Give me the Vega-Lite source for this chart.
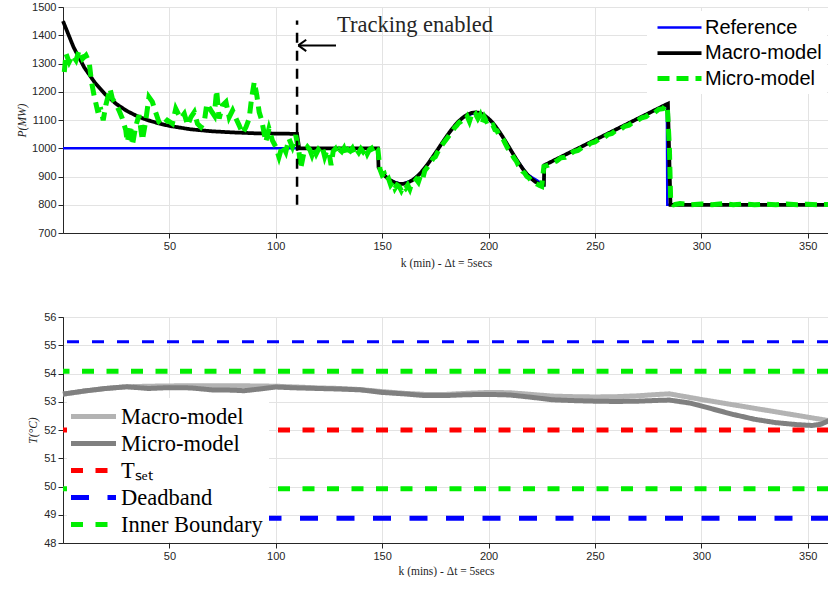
{
  "$schema": "https://vega.github.io/schema/vega-lite/v6.json",
  "padding": {"left": 15, "top": 0, "right": 0, "bottom": 0},
  "background": "white",
  "spacing": 84,
  "bounds": "flush",
  "resolve": {
    "scale": {"color": "independent", "strokeWidth": "independent", "strokeDash": "independent"},
    "legend": {"color": "independent", "strokeWidth": "independent", "strokeDash": "independent"}
  },
  "config": {
    "view": {"stroke": "#262626", "strokeWidth": 1},
    "axis": {
      "grid": true, "gridColor": "#e3e3e3", "gridWidth": 1,
      "domainColor": "#262626", "tickColor": "#262626", "tickSize": 5, "labelOverlap": false,
      "labelFont": "Liberation Sans", "labelFontSize": 11, "labelColor": "#262626",
      "titleFont": "Liberation Serif", "titleFontWeight": "normal", "titleFontSize": 11.5, "titleColor": "#262626"
    }
  },
  "datasets": {
    "top": [
      {"k": 0, "P": 1000, "s": "Reference"}, {"k": 148, "P": 1000, "s": "Reference"},
      {"k": 148.3, "P": 932, "s": "Reference"}, {"k": 150, "P": 912, "s": "Reference"}, {"k": 154, "P": 886, "s": "Reference"}, {"k": 159, "P": 873, "s": "Reference"}, {"k": 164, "P": 886, "s": "Reference"}, {"k": 168, "P": 912, "s": "Reference"}, {"k": 172, "P": 950, "s": "Reference"}, {"k": 176, "P": 994, "s": "Reference"}, {"k": 180, "P": 1039, "s": "Reference"}, {"k": 184, "P": 1079, "s": "Reference"}, {"k": 188, "P": 1109, "s": "Reference"}, {"k": 194, "P": 1127, "s": "Reference"}, {"k": 200, "P": 1105, "s": "Reference"}, {"k": 206, "P": 1048, "s": "Reference"}, {"k": 212, "P": 974, "s": "Reference"}, {"k": 218, "P": 909, "s": "Reference"}, {"k": 226, "P": 871, "s": "Reference"}, {"k": 226.2, "P": 940, "s": "Reference"}, {"k": 283.8, "P": 1157, "s": "Reference"}, {"k": 284, "P": 800, "s": "Reference"}, {"k": 360, "P": 800, "s": "Reference"},

      {"k": 0, "P": 1450, "s": "Macro-model"}, {"k": 5, "P": 1357, "s": "Macro-model"}, {"k": 10, "P": 1286, "s": "Macro-model"}, {"k": 15, "P": 1232, "s": "Macro-model"}, {"k": 20, "P": 1190, "s": "Macro-model"}, {"k": 25, "P": 1157, "s": "Macro-model"}, {"k": 30, "P": 1132, "s": "Macro-model"}, {"k": 35, "P": 1113, "s": "Macro-model"}, {"k": 40, "P": 1099, "s": "Macro-model"}, {"k": 45, "P": 1088, "s": "Macro-model"}, {"k": 50, "P": 1079, "s": "Macro-model"}, {"k": 60, "P": 1067, "s": "Macro-model"}, {"k": 70, "P": 1060, "s": "Macro-model"}, {"k": 80, "P": 1056, "s": "Macro-model"}, {"k": 90, "P": 1053, "s": "Macro-model"}, {"k": 100, "P": 1052, "s": "Macro-model"}, {"k": 110, "P": 1051, "s": "Macro-model"}, {"k": 111, "P": 1000, "s": "Macro-model"}, {"k": 148, "P": 1000, "s": "Macro-model"},
      {"k": 148.3, "P": 932, "s": "Macro-model"}, {"k": 150, "P": 912, "s": "Macro-model"}, {"k": 152, "P": 897, "s": "Macro-model"}, {"k": 154, "P": 886, "s": "Macro-model"}, {"k": 156, "P": 878, "s": "Macro-model"}, {"k": 158, "P": 874, "s": "Macro-model"}, {"k": 160, "P": 874, "s": "Macro-model"}, {"k": 162, "P": 878, "s": "Macro-model"}, {"k": 164, "P": 886, "s": "Macro-model"}, {"k": 166, "P": 897, "s": "Macro-model"}, {"k": 168, "P": 912, "s": "Macro-model"}, {"k": 170, "P": 930, "s": "Macro-model"}, {"k": 172, "P": 950, "s": "Macro-model"}, {"k": 174, "P": 972, "s": "Macro-model"}, {"k": 176, "P": 994, "s": "Macro-model"}, {"k": 178, "P": 1017, "s": "Macro-model"}, {"k": 180, "P": 1039, "s": "Macro-model"}, {"k": 182, "P": 1060, "s": "Macro-model"}, {"k": 184, "P": 1079, "s": "Macro-model"}, {"k": 186, "P": 1096, "s": "Macro-model"}, {"k": 188, "P": 1109, "s": "Macro-model"}, {"k": 190, "P": 1119, "s": "Macro-model"}, {"k": 192, "P": 1125, "s": "Macro-model"}, {"k": 194, "P": 1127, "s": "Macro-model"}, {"k": 196, "P": 1125, "s": "Macro-model"}, {"k": 198, "P": 1117, "s": "Macro-model"}, {"k": 200, "P": 1105, "s": "Macro-model"}, {"k": 202, "P": 1090, "s": "Macro-model"}, {"k": 204, "P": 1070, "s": "Macro-model"}, {"k": 206, "P": 1048, "s": "Macro-model"}, {"k": 208, "P": 1024, "s": "Macro-model"}, {"k": 210, "P": 999, "s": "Macro-model"}, {"k": 212, "P": 974, "s": "Macro-model"}, {"k": 214, "P": 950, "s": "Macro-model"}, {"k": 216, "P": 928, "s": "Macro-model"}, {"k": 218, "P": 909, "s": "Macro-model"}, {"k": 220, "P": 893, "s": "Macro-model"}, {"k": 222, "P": 881, "s": "Macro-model"}, {"k": 224, "P": 873, "s": "Macro-model"}, {"k": 226, "P": 871, "s": "Macro-model"}, {"k": 226.2, "P": 940, "s": "Macro-model"}, {"k": 284.3, "P": 1158, "s": "Macro-model"}, {"k": 285.5, "P": 800, "s": "Macro-model"}, {"k": 360, "P": 800, "s": "Macro-model"},

      {"k": 0.6, "P": 1270, "s": "Micro-model"}, {"k": 1.4, "P": 1335, "s": "Micro-model"}, {"k": 2.9, "P": 1305, "s": "Micro-model"}, {"k": 4.5, "P": 1329, "s": "Micro-model"}, {"k": 6.1, "P": 1311, "s": "Micro-model"}, {"k": 7.6, "P": 1347, "s": "Micro-model"}, {"k": 9.2, "P": 1317, "s": "Micro-model"}, {"k": 10.8, "P": 1329, "s": "Micro-model"}, {"k": 12.3, "P": 1305, "s": "Micro-model"}, {"k": 13.4, "P": 1235, "s": "Micro-model"}, {"k": 14.6, "P": 1187, "s": "Micro-model"}, {"k": 16.2, "P": 1134, "s": "Micro-model"}, {"k": 17.8, "P": 1137, "s": "Micro-model"}, {"k": 18.9, "P": 1099, "s": "Micro-model"}, {"k": 20.1, "P": 1152, "s": "Micro-model"}, {"k": 22.1, "P": 1211, "s": "Micro-model"}, {"k": 23.2, "P": 1176, "s": "Micro-model"}, {"k": 24.7, "P": 1158, "s": "Micro-model"}, {"k": 26.3, "P": 1134, "s": "Micro-model"}, {"k": 27.9, "P": 1105, "s": "Micro-model"}, {"k": 29.5, "P": 1064, "s": "Micro-model"}, {"k": 30.2, "P": 1022, "s": "Micro-model"}, {"k": 31.8, "P": 1081, "s": "Micro-model"}, {"k": 32.6, "P": 1010, "s": "Micro-model"}, {"k": 34.1, "P": 1075, "s": "Micro-model"}, {"k": 35.7, "P": 1117, "s": "Micro-model"}, {"k": 37.3, "P": 1028, "s": "Micro-model"}, {"k": 38.8, "P": 1093, "s": "Micro-model"}, {"k": 40.4, "P": 1181, "s": "Micro-model"}, {"k": 42, "P": 1164, "s": "Micro-model"}, {"k": 43.5, "P": 1128, "s": "Micro-model"}, {"k": 45.1, "P": 1093, "s": "Micro-model"}, {"k": 46.7, "P": 1081, "s": "Micro-model"}, {"k": 49, "P": 1099, "s": "Micro-model"}, {"k": 51.4, "P": 1087, "s": "Micro-model"}, {"k": 53, "P": 1140, "s": "Micro-model"}, {"k": 55.3, "P": 1105, "s": "Micro-model"}, {"k": 57, "P": 1122, "s": "Micro-model"}, {"k": 58.6, "P": 1081, "s": "Micro-model"}, {"k": 60.1, "P": 1110, "s": "Micro-model"}, {"k": 61.7, "P": 1128, "s": "Micro-model"}, {"k": 63.2, "P": 1087, "s": "Micro-model"}, {"k": 64.8, "P": 1075, "s": "Micro-model"}, {"k": 66.4, "P": 1093, "s": "Micro-model"}, {"k": 67.6, "P": 1158, "s": "Micro-model"}, {"k": 69.5, "P": 1134, "s": "Micro-model"}, {"k": 71.1, "P": 1116, "s": "Micro-model"}, {"k": 72.2, "P": 1205, "s": "Micro-model"}, {"k": 73.4, "P": 1105, "s": "Micro-model"}, {"k": 75, "P": 1152, "s": "Micro-model"}, {"k": 76.6, "P": 1164, "s": "Micro-model"}, {"k": 78.1, "P": 1110, "s": "Micro-model"}, {"k": 79.7, "P": 1134, "s": "Micro-model"}, {"k": 81.3, "P": 1105, "s": "Micro-model"}, {"k": 82.8, "P": 1081, "s": "Micro-model"}, {"k": 84.4, "P": 1052, "s": "Micro-model"}, {"k": 86, "P": 1075, "s": "Micro-model"}, {"k": 87.5, "P": 1105, "s": "Micro-model"}, {"k": 88.6, "P": 1175, "s": "Micro-model"}, {"k": 89.9, "P": 1235, "s": "Micro-model"}, {"k": 91.1, "P": 1187, "s": "Micro-model"}, {"k": 92.2, "P": 1128, "s": "Micro-model"}, {"k": 93.4, "P": 1099, "s": "Micro-model"}, {"k": 95.3, "P": 1022, "s": "Micro-model"}, {"k": 96.8, "P": 1069, "s": "Micro-model"}, {"k": 98.4, "P": 1028, "s": "Micro-model"}, {"k": 100, "P": 1005, "s": "Micro-model"}, {"k": 101.5, "P": 969, "s": "Micro-model"}, {"k": 103.1, "P": 1011, "s": "Micro-model"}, {"k": 104.7, "P": 987, "s": "Micro-model"}, {"k": 106.2, "P": 1034, "s": "Micro-model"}, {"k": 107.8, "P": 1005, "s": "Micro-model"}, {"k": 109.4, "P": 1046, "s": "Micro-model"}, {"k": 110.9, "P": 987, "s": "Micro-model"}, {"k": 111.7, "P": 928, "s": "Micro-model"}, {"k": 113.3, "P": 987, "s": "Micro-model"}, {"k": 114.9, "P": 1005, "s": "Micro-model"},
      {"k": 116, "P": 995, "s": "Micro-model"}, {"k": 117, "P": 975, "s": "Micro-model"}, {"k": 118, "P": 998, "s": "Micro-model"}, {"k": 119, "P": 980, "s": "Micro-model"}, {"k": 120, "P": 995, "s": "Micro-model"}, {"k": 121, "P": 985, "s": "Micro-model"}, {"k": 122, "P": 1000, "s": "Micro-model"}, {"k": 123, "P": 970, "s": "Micro-model"}, {"k": 124, "P": 992, "s": "Micro-model"}, {"k": 125, "P": 985, "s": "Micro-model"}, {"k": 126, "P": 940, "s": "Micro-model"}, {"k": 127, "P": 990, "s": "Micro-model"}, {"k": 128, "P": 998, "s": "Micro-model"}, {"k": 129, "P": 980, "s": "Micro-model"}, {"k": 130, "P": 995, "s": "Micro-model"}, {"k": 131, "P": 988, "s": "Micro-model"}, {"k": 132, "P": 1000, "s": "Micro-model"}, {"k": 133, "P": 975, "s": "Micro-model"}, {"k": 134, "P": 995, "s": "Micro-model"}, {"k": 135, "P": 990, "s": "Micro-model"}, {"k": 136, "P": 1000, "s": "Micro-model"}, {"k": 137, "P": 982, "s": "Micro-model"}, {"k": 138, "P": 996, "s": "Micro-model"}, {"k": 139, "P": 985, "s": "Micro-model"}, {"k": 140, "P": 998, "s": "Micro-model"}, {"k": 141, "P": 988, "s": "Micro-model"}, {"k": 142, "P": 1000, "s": "Micro-model"}, {"k": 143, "P": 980, "s": "Micro-model"}, {"k": 144, "P": 995, "s": "Micro-model"}, {"k": 145, "P": 1000, "s": "Micro-model"}, {"k": 146, "P": 985, "s": "Micro-model"}, {"k": 147, "P": 1000, "s": "Micro-model"}, {"k": 148, "P": 995, "s": "Micro-model"},
      {"k": 149, "P": 925, "s": "Micro-model"}, {"k": 150, "P": 905, "s": "Micro-model"}, {"k": 151, "P": 910, "s": "Micro-model"}, {"k": 152, "P": 885, "s": "Micro-model"}, {"k": 153, "P": 892, "s": "Micro-model"}, {"k": 154, "P": 870, "s": "Micro-model"}, {"k": 155, "P": 880, "s": "Micro-model"}, {"k": 156, "P": 858, "s": "Micro-model"}, {"k": 157, "P": 870, "s": "Micro-model"}, {"k": 158, "P": 865, "s": "Micro-model"}, {"k": 159, "P": 850, "s": "Micro-model"}, {"k": 160, "P": 866, "s": "Micro-model"}, {"k": 161, "P": 858, "s": "Micro-model"}, {"k": 162, "P": 870, "s": "Micro-model"}, {"k": 163, "P": 855, "s": "Micro-model"}, {"k": 164, "P": 878, "s": "Micro-model"}, {"k": 165, "P": 880, "s": "Micro-model"}, {"k": 166, "P": 890, "s": "Micro-model"}, {"k": 167, "P": 880, "s": "Micro-model"}, {"k": 168, "P": 902, "s": "Micro-model"}, {"k": 169, "P": 890, "s": "Micro-model"}, {"k": 170, "P": 920, "s": "Micro-model"}, {"k": 171, "P": 930, "s": "Micro-model"}, {"k": 172, "P": 940, "s": "Micro-model"}, {"k": 173, "P": 952, "s": "Micro-model"}, {"k": 174, "P": 965, "s": "Micro-model"}, {"k": 175, "P": 970, "s": "Micro-model"}, {"k": 176, "P": 985, "s": "Micro-model"}, {"k": 177, "P": 1000, "s": "Micro-model"}, {"k": 178, "P": 1010, "s": "Micro-model"}, {"k": 179, "P": 1020, "s": "Micro-model"}, {"k": 180, "P": 1030, "s": "Micro-model"}, {"k": 181, "P": 1040, "s": "Micro-model"}, {"k": 182, "P": 1052, "s": "Micro-model"}, {"k": 183, "P": 1060, "s": "Micro-model"}, {"k": 184, "P": 1072, "s": "Micro-model"}, {"k": 185, "P": 1080, "s": "Micro-model"}, {"k": 186, "P": 1090, "s": "Micro-model"}, {"k": 187, "P": 1095, "s": "Micro-model"}, {"k": 188, "P": 1102, "s": "Micro-model"}, {"k": 189, "P": 1100, "s": "Micro-model"}, {"k": 190, "P": 1112, "s": "Micro-model"}, {"k": 191, "P": 1095, "s": "Micro-model"}, {"k": 192, "P": 1118, "s": "Micro-model"}, {"k": 193, "P": 1110, "s": "Micro-model"}, {"k": 194, "P": 1120, "s": "Micro-model"}, {"k": 195, "P": 1105, "s": "Micro-model"}, {"k": 196, "P": 1118, "s": "Micro-model"}, {"k": 197, "P": 1090, "s": "Micro-model"}, {"k": 198, "P": 1110, "s": "Micro-model"}, {"k": 199, "P": 1095, "s": "Micro-model"}, {"k": 200, "P": 1098, "s": "Micro-model"}, {"k": 201, "P": 1080, "s": "Micro-model"}, {"k": 202, "P": 1082, "s": "Micro-model"}, {"k": 203, "P": 1065, "s": "Micro-model"}, {"k": 204, "P": 1062, "s": "Micro-model"}, {"k": 205, "P": 1045, "s": "Micro-model"}, {"k": 206, "P": 1040, "s": "Micro-model"}, {"k": 207, "P": 1030, "s": "Micro-model"}, {"k": 208, "P": 1015, "s": "Micro-model"}, {"k": 209, "P": 1000, "s": "Micro-model"}, {"k": 210, "P": 992, "s": "Micro-model"}, {"k": 211, "P": 978, "s": "Micro-model"}, {"k": 212, "P": 965, "s": "Micro-model"}, {"k": 213, "P": 955, "s": "Micro-model"}, {"k": 214, "P": 940, "s": "Micro-model"}, {"k": 215, "P": 932, "s": "Micro-model"}, {"k": 216, "P": 918, "s": "Micro-model"}, {"k": 217, "P": 912, "s": "Micro-model"}, {"k": 218, "P": 900, "s": "Micro-model"}, {"k": 219, "P": 895, "s": "Micro-model"}, {"k": 220, "P": 886, "s": "Micro-model"}, {"k": 221, "P": 882, "s": "Micro-model"}, {"k": 222, "P": 876, "s": "Micro-model"}, {"k": 223, "P": 872, "s": "Micro-model"}, {"k": 224, "P": 868, "s": "Micro-model"}, {"k": 225, "P": 865, "s": "Micro-model"}, {"k": 226, "P": 935, "s": "Micro-model"},
      {"k": 228, "P": 940, "s": "Micro-model"}, {"k": 230, "P": 948, "s": "Micro-model"}, {"k": 232, "P": 955, "s": "Micro-model"}, {"k": 234, "P": 966, "s": "Micro-model"}, {"k": 236, "P": 968, "s": "Micro-model"}, {"k": 238, "P": 978, "s": "Micro-model"}, {"k": 240, "P": 988, "s": "Micro-model"}, {"k": 242, "P": 992, "s": "Micro-model"}, {"k": 244, "P": 1003, "s": "Micro-model"}, {"k": 246, "P": 1006, "s": "Micro-model"}, {"k": 248, "P": 1018, "s": "Micro-model"}, {"k": 250, "P": 1022, "s": "Micro-model"}, {"k": 252, "P": 1033, "s": "Micro-model"}, {"k": 254, "P": 1036, "s": "Micro-model"}, {"k": 256, "P": 1048, "s": "Micro-model"}, {"k": 258, "P": 1052, "s": "Micro-model"}, {"k": 260, "P": 1064, "s": "Micro-model"}, {"k": 262, "P": 1066, "s": "Micro-model"}, {"k": 264, "P": 1078, "s": "Micro-model"}, {"k": 266, "P": 1082, "s": "Micro-model"}, {"k": 268, "P": 1093, "s": "Micro-model"}, {"k": 270, "P": 1098, "s": "Micro-model"}, {"k": 272, "P": 1108, "s": "Micro-model"}, {"k": 274, "P": 1112, "s": "Micro-model"}, {"k": 276, "P": 1123, "s": "Micro-model"}, {"k": 278, "P": 1126, "s": "Micro-model"}, {"k": 280, "P": 1138, "s": "Micro-model"}, {"k": 282, "P": 1140, "s": "Micro-model"}, {"k": 283, "P": 1150, "s": "Micro-model"}, {"k": 284, "P": 1150, "s": "Micro-model"}, {"k": 285, "P": 1000, "s": "Micro-model"}, {"k": 285.6, "P": 810, "s": "Micro-model"}, {"k": 287, "P": 800, "s": "Micro-model"}, {"k": 290, "P": 804, "s": "Micro-model"}, {"k": 295, "P": 800, "s": "Micro-model"}, {"k": 300, "P": 803, "s": "Micro-model"}, {"k": 305, "P": 800, "s": "Micro-model"}, {"k": 310, "P": 804, "s": "Micro-model"}, {"k": 315, "P": 800, "s": "Micro-model"}, {"k": 320, "P": 803, "s": "Micro-model"}, {"k": 325, "P": 800, "s": "Micro-model"}, {"k": 330, "P": 802, "s": "Micro-model"}, {"k": 335, "P": 800, "s": "Micro-model"}, {"k": 340, "P": 803, "s": "Micro-model"}, {"k": 345, "P": 800, "s": "Micro-model"}, {"k": 350, "P": 802, "s": "Micro-model"}, {"k": 355, "P": 800, "s": "Micro-model"}, {"k": 360, "P": 801, "s": "Micro-model"}
    ],
    "bottom": [
      {"k": 0, "T": 53.27, "s": "Macro-model"}, {"k": 10, "T": 53.38, "s": "Macro-model"}, {"k": 20, "T": 53.47, "s": "Macro-model"}, {"k": 30, "T": 53.53, "s": "Macro-model"}, {"k": 40, "T": 53.55, "s": "Macro-model"}, {"k": 50, "T": 53.56, "s": "Macro-model"}, {"k": 60, "T": 53.57, "s": "Macro-model"}, {"k": 70, "T": 53.57, "s": "Macro-model"}, {"k": 80, "T": 53.57, "s": "Macro-model"}, {"k": 90, "T": 53.56, "s": "Macro-model"}, {"k": 100, "T": 53.55, "s": "Macro-model"}, {"k": 110, "T": 53.52, "s": "Macro-model"}, {"k": 120, "T": 53.49, "s": "Macro-model"}, {"k": 130, "T": 53.47, "s": "Macro-model"}, {"k": 140, "T": 53.43, "s": "Macro-model"}, {"k": 150, "T": 53.36, "s": "Macro-model"}, {"k": 160, "T": 53.3, "s": "Macro-model"}, {"k": 170, "T": 53.26, "s": "Macro-model"}, {"k": 180, "T": 53.26, "s": "Macro-model"}, {"k": 190, "T": 53.3, "s": "Macro-model"}, {"k": 200, "T": 53.33, "s": "Macro-model"}, {"k": 210, "T": 53.32, "s": "Macro-model"}, {"k": 220, "T": 53.26, "s": "Macro-model"}, {"k": 230, "T": 53.2, "s": "Macro-model"}, {"k": 240, "T": 53.18, "s": "Macro-model"}, {"k": 250, "T": 53.17, "s": "Macro-model"}, {"k": 260, "T": 53.18, "s": "Macro-model"}, {"k": 270, "T": 53.21, "s": "Macro-model"}, {"k": 280, "T": 53.26, "s": "Macro-model"}, {"k": 285, "T": 53.28, "s": "Macro-model"}, {"k": 300, "T": 53.08, "s": "Macro-model"}, {"k": 320, "T": 52.83, "s": "Macro-model"}, {"k": 340, "T": 52.58, "s": "Macro-model"}, {"k": 360, "T": 52.33, "s": "Macro-model"},
      {"k": 0, "T": 53.27, "s": "Micro-model"}, {"k": 10, "T": 53.38, "s": "Micro-model"}, {"k": 20, "T": 53.47, "s": "Micro-model"}, {"k": 30, "T": 53.53, "s": "Micro-model"}, {"k": 40, "T": 53.47, "s": "Micro-model"}, {"k": 50, "T": 53.5, "s": "Micro-model"}, {"k": 60, "T": 53.49, "s": "Micro-model"}, {"k": 70, "T": 53.42, "s": "Micro-model"}, {"k": 80, "T": 53.41, "s": "Micro-model"}, {"k": 85, "T": 53.39, "s": "Micro-model"}, {"k": 90, "T": 53.43, "s": "Micro-model"}, {"k": 100, "T": 53.52, "s": "Micro-model"}, {"k": 110, "T": 53.49, "s": "Micro-model"}, {"k": 120, "T": 53.47, "s": "Micro-model"}, {"k": 130, "T": 53.45, "s": "Micro-model"}, {"k": 140, "T": 53.42, "s": "Micro-model"}, {"k": 150, "T": 53.33, "s": "Micro-model"}, {"k": 160, "T": 53.28, "s": "Micro-model"}, {"k": 170, "T": 53.22, "s": "Micro-model"}, {"k": 180, "T": 53.22, "s": "Micro-model"}, {"k": 190, "T": 53.25, "s": "Micro-model"}, {"k": 200, "T": 53.26, "s": "Micro-model"}, {"k": 210, "T": 53.24, "s": "Micro-model"}, {"k": 220, "T": 53.16, "s": "Micro-model"}, {"k": 230, "T": 53.07, "s": "Micro-model"}, {"k": 240, "T": 53.04, "s": "Micro-model"}, {"k": 250, "T": 53.02, "s": "Micro-model"}, {"k": 260, "T": 53.01, "s": "Micro-model"}, {"k": 270, "T": 53.02, "s": "Micro-model"}, {"k": 280, "T": 53.05, "s": "Micro-model"}, {"k": 285, "T": 53.06, "s": "Micro-model"}, {"k": 295, "T": 52.95, "s": "Micro-model"}, {"k": 305, "T": 52.75, "s": "Micro-model"}, {"k": 315, "T": 52.55, "s": "Micro-model"}, {"k": 325, "T": 52.38, "s": "Micro-model"}, {"k": 335, "T": 52.26, "s": "Micro-model"}, {"k": 345, "T": 52.19, "s": "Micro-model"}, {"k": 352, "T": 52.16, "s": "Micro-model"}, {"k": 356, "T": 52.2, "s": "Micro-model"}, {"k": 360, "T": 52.33, "s": "Micro-model"}
    ],
    "bounds": [
      {"s": "Tset", "T": 52.0},
      {"s": "Deadband", "T": 48.88},
      {"s": "Inner Boundary", "T": 54.08},
      {"s": "Inner Boundary", "T": 49.92}
    ],
    "upper": [{"s": "Deadband upper", "T": 55.12}],
    "vline": [{"k": 110, "P": 800, "P2": 1452}],
    "arrow": [
      {"k": 110.6, "k2": 128.3, "P": 1364, "P2": 1364},
      {"k": 110.6, "k2": 114.3, "P": 1364, "P2": 1384},
      {"k": 110.6, "k2": 114.3, "P": 1364, "P2": 1344}
    ],
    "note": [{"k": 128.8, "P": 1437, "label": "Tracking enabled"}]
  },
  "vconcat": [
    {
      "width": 766,
      "height": 226,
      "encoding": {
        "x": {"field": "k", "type": "quantitative", "scale": {"domain": [0, 360], "nice": false, "zero": false},
              "axis": {"values": [50, 100, 150, 200, 250, 300, 350], "title": "k (min) - Δt = 5secs", "titlePadding": 6}},
        "y": {"field": "P", "type": "quantitative", "scale": {"domain": [700, 1500], "nice": false, "zero": false},
              "axis": {"values": [700, 800, 900, 1000, 1100, 1200, 1300, 1400, 1500], "format": "d", "title": "P(MW)", "titleFontStyle": "italic", "titleX": -36, "titleY": 113}}
      },
      "layer": [
        {
          "data": {"name": "top"},
          "transform": [{"filter": "datum.s === 'Reference'"}],
          "mark": {"type": "line", "strokeCap": "butt"},
          "encoding": {
            "color": {"field": "s", "type": "nominal",
                      "scale": {"domain": ["Reference", "Macro-model", "Micro-model"], "range": ["#0000ff", "#000000", "#00ee00"]},
                      "legend": {"title": null, "orient": "none", "legendX": 584, "legendY": 4, "fillColor": "white", "padding": 5,
                                 "symbolType": "M-2.2,0H2.2", "symbolSize": 400, "symbolOffset": 15, "labelFont": "Liberation Sans", "labelFontSize": 20,
                                 "labelColor": "#000000", "rowPadding": 3, "labelOffset": 13, "labelLimit": 300}},
            "strokeWidth": {"field": "s", "type": "nominal", "scale": {"domain": ["Reference", "Macro-model", "Micro-model"], "range": [2.5, 5, 2.6]}},
            "strokeDash": {"field": "s", "type": "nominal", "scale": {"domain": ["Reference", "Macro-model", "Micro-model"], "range": [[1, 0], [1, 0], [12, 7]]}}
          }
        },
        {
          "data": {"name": "top"},
          "transform": [{"filter": "datum.s === 'Macro-model'"}],
          "mark": {"type": "line", "strokeCap": "butt"},
          "encoding": {
            "color": {"field": "s", "type": "nominal"},
            "strokeWidth": {"field": "s", "type": "nominal"},
            "strokeDash": {"field": "s", "type": "nominal"}
          }
        },
        {
          "data": {"name": "top"},
          "transform": [{"filter": "datum.s === 'Micro-model'"}],
          "mark": {"type": "line", "strokeCap": "butt"},
          "encoding": {
            "color": {"field": "s", "type": "nominal"},
            "strokeWidth": {"field": "s", "type": "nominal"},
            "strokeDash": {"field": "s", "type": "nominal"}
          }
        },
        {
          "data": {"name": "vline"},
          "mark": {"type": "rule", "color": "black", "strokeWidth": 2.5, "strokeDash": [10, 8]},
          "encoding": {"y2": {"field": "P2"}}
        },
        {
          "data": {"name": "arrow"},
          "mark": {"type": "rule", "color": "black", "strokeWidth": 2},
          "encoding": {"x2": {"field": "k2"}, "y2": {"field": "P2"}}
        },
        {
          "data": {"name": "note"},
          "mark": {"type": "text", "align": "left", "baseline": "middle", "font": "Liberation Serif", "fontSize": 22.5, "color": "#262626"},
          "encoding": {"text": {"field": "label"}}
        }
      ]
    },
    {
      "width": 766,
      "height": 226,
      "encoding": {
        "y": {"field": "T", "type": "quantitative", "scale": {"domain": [48, 56], "nice": false, "zero": false},
              "axis": {"values": [48, 49, 50, 51, 52, 53, 54, 55, 56], "title": "T(°C)", "titleFontStyle": "italic", "titleX": -25, "titleY": 113}}
      },
      "layer": [
        {
          "data": {"name": "bottom"},
          "transform": [{"filter": "datum.s === 'Macro-model'"}],
          "mark": {"type": "line", "strokeCap": "butt"},
          "encoding": {
            "x": {"field": "k", "type": "quantitative", "scale": {"domain": [0, 360], "nice": false, "zero": false},
                  "axis": {"values": [50, 100, 150, 200, 250, 300, 350], "title": "k (mins) - Δt = 5secs", "titlePadding": 4}},
            "color": {"field": "s", "type": "nominal",
                      "scale": {"domain": ["Macro-model", "Micro-model", "Tset", "Deadband", "Inner Boundary"], "range": ["#b3b3b3", "#808080", "#ff0000", "#0000ff", "#00ee00"]},
                      "legend": {"title": null, "orient": "none", "legendX": 4, "legendY": 81, "fillColor": "white", "padding": 6,
                                 "symbolType": "M-2.25,0H2.25", "symbolSize": 400, "symbolOffset": 8, "labelFont": "Liberation Serif", "labelFontSize": 22.5,
                                 "labelColor": "#000000", "rowPadding": 3, "labelOffset": 15, "labelLimit": 300,
                                 "labelExpr": "datum.label === 'Tset' ? 'Tₛₑₜ' : datum.label"}},
            "strokeWidth": {"field": "s", "type": "nominal", "scale": {"domain": ["Macro-model", "Micro-model", "Tset", "Deadband", "Inner Boundary"], "range": [5, 5, 3, 4.5, 3]}},
            "strokeDash": {"field": "s", "type": "nominal", "scale": {"domain": ["Macro-model", "Micro-model", "Tset", "Deadband", "Inner Boundary"], "range": [[1, 0], [1, 0], [12, 12.5], [18, 18.5], [12, 12.5]]}}
          }
        },
        {
          "data": {"name": "bottom"},
          "transform": [{"filter": "datum.s === 'Micro-model'"}],
          "mark": {"type": "line", "strokeCap": "butt"},
          "encoding": {
            "x": {"field": "k", "type": "quantitative", "scale": {"domain": [0, 360], "nice": false, "zero": false},
                  "axis": {"values": [50, 100, 150, 200, 250, 300, 350], "title": "k (mins) - Δt = 5secs", "titlePadding": 4}},
            "color": {"field": "s", "type": "nominal"},
            "strokeWidth": {"field": "s", "type": "nominal"},
            "strokeDash": {"field": "s", "type": "nominal"}
          }
        },
        {
          "data": {"name": "upper"},
          "mark": {"type": "rule", "color": "#0000ff", "strokeWidth": 3, "strokeDash": [12, 13]},
          "encoding": {}
        },
        {
          "data": {"name": "bounds"},
          "mark": {"type": "rule"},
          "encoding": {
            "detail": {"field": "T", "type": "quantitative"},
            "color": {"field": "s", "type": "nominal"},
            "strokeWidth": {"field": "s", "type": "nominal"},
            "strokeDash": {"field": "s", "type": "nominal"}
          }
        }
      ]
    }
  ]
}
